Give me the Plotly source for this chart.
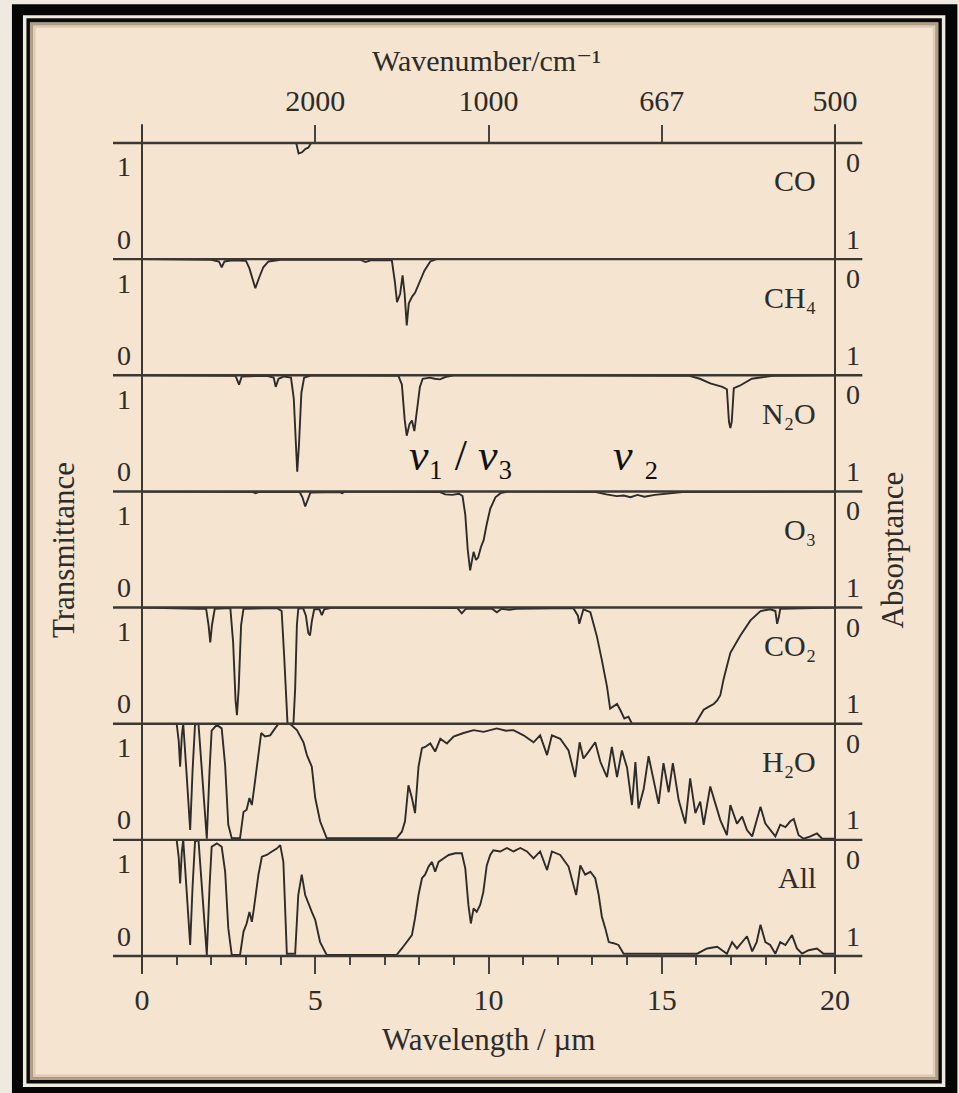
import plotly.graph_objects as go
from plotly.subplots import make_subplots

W, H = 959, 1093
L, R, T, B = 142.0, 834.7, 142.7, 956.0

# ---------------- data (wavelength in µm, transmittance 0..1) ----------------
species_labels = ["CO", "CH₄", "N₂O", "O₃", "CO₂", "H₂O", "All"]

co_wl = [0, 4.45, 4.52, 4.62, 4.72, 4.80, 4.88, 20]
co_tr = [1, 1.0, 0.91, 0.92, 0.95, 0.96, 1.0, 1]

ch4_wl = [0, 2.0, 2.22, 2.30, 2.38, 2.6, 3.0, 3.10, 3.20, 3.27, 3.38, 3.50, 3.65, 4.0,
          6.3, 6.45, 6.6, 7.21, 7.30, 7.36, 7.45, 7.52, 7.58, 7.64, 7.70, 7.80, 7.88,
          8.0, 8.15, 8.32, 8.5, 20]
ch4_tr = [1, 0.995, 0.98, 0.93, 0.98, 0.99, 0.985, 0.92, 0.82, 0.75, 0.84, 0.93, 0.98, 0.995,
          0.995, 0.975, 0.99, 0.99, 0.80, 0.63, 0.70, 0.86, 0.70, 0.43, 0.62, 0.68, 0.71,
          0.80, 0.90, 0.98, 1.0, 1]

n2o_wl = [0, 2.7, 2.80, 2.88, 3.6, 3.80, 3.86, 3.94, 4.1, 4.30, 4.38, 4.44, 4.48, 4.53,
          4.60, 4.68, 4.9, 7.4, 7.50, 7.58, 7.64, 7.72, 7.79, 7.86, 7.92, 8.02, 8.10,
          8.3, 8.45, 8.6, 8.75, 9.0, 15.8, 16.1, 16.4, 16.75, 16.88, 16.94, 16.98,
          17.02, 17.08, 17.25, 17.6, 18.2, 20]
n2o_tr = [1, 0.995, 0.92, 0.99, 0.995, 0.98, 0.90, 0.97, 0.99, 0.98, 0.80, 0.35, 0.17, 0.40,
          0.85, 0.98, 1.0, 0.995, 0.92, 0.62, 0.48, 0.58, 0.61, 0.52, 0.65, 0.90, 0.97,
          0.98, 0.97, 0.965, 0.985, 1.0, 0.995, 0.97, 0.93, 0.90, 0.88, 0.60, 0.545,
          0.60, 0.89, 0.91, 0.97, 0.995, 1]

o3_wl = [0, 3.2, 3.28, 3.36, 4.55, 4.63, 4.71, 4.78, 4.86, 5.7, 5.78, 5.86, 8.6, 8.75,
         8.95, 9.15, 9.25, 9.33, 9.40, 9.47, 9.52, 9.57, 9.64, 9.70, 9.78, 9.86, 9.95,
         10.05, 10.2, 10.35, 10.6, 13.1, 13.4, 13.7, 13.9, 14.1, 14.3, 14.5, 14.8, 15.1,
         15.6, 20]
o3_tr = [1, 0.995, 0.985, 0.995, 0.995, 0.95, 0.87, 0.93, 0.99, 0.995, 0.985, 1.0, 0.995, 0.975,
         0.97, 0.98, 0.96, 0.80, 0.50, 0.32, 0.42, 0.48, 0.41, 0.43, 0.52, 0.58, 0.72,
         0.85, 0.95, 0.985, 1.0, 0.995, 0.975, 0.96, 0.965, 0.95, 0.97, 0.955, 0.97, 0.98,
         0.995, 1]

co2_wl = [0, 1.4, 1.5, 1.6, 1.85, 1.92, 1.97, 2.02, 2.10, 2.55, 2.63, 2.70, 2.74, 2.79,
          2.86, 2.93, 3.9, 4.03, 4.10, 4.16, 4.20, 4.37, 4.42, 4.47, 4.51, 4.65, 4.73,
          4.80, 4.85, 4.90, 4.97, 5.12, 5.19, 5.26, 5.5, 9.1, 9.23, 9.35, 10.1, 10.24,
          10.38, 10.6, 10.8, 12.45, 12.58, 12.62, 12.67, 12.74, 12.94, 13.13, 13.27,
          13.42, 13.51, 13.62, 13.71, 13.80, 13.92, 14.04, 14.14, 15.97, 16.11, 16.21,
          16.35, 16.5, 16.6, 16.69, 16.79, 16.98, 17.27, 17.56, 17.85, 18.13, 18.28,
          18.33, 18.38, 18.42, 20]
co2_tr = [1, 0.99, 0.985, 0.99, 0.99, 0.85, 0.70, 0.85, 0.99, 0.995, 0.70, 0.20, 0.074, 0.30,
          0.85, 0.99, 0.995, 0.97, 0.60, 0.15, 0.0, 0.0, 0.30, 0.85, 0.99, 0.995, 0.93,
          0.78, 0.76, 0.88, 0.985, 0.985, 0.935, 0.985, 1.0, 0.995, 0.95, 0.99, 0.99, 0.96,
          0.99, 0.98, 0.99, 0.995, 0.93, 0.86, 0.92, 0.985, 0.96, 0.75, 0.55,
          0.32, 0.13, 0.15, 0.17, 0.12, 0.045, 0.06, 0.0, 0.0, 0.074, 0.12,
          0.145, 0.17, 0.20, 0.245, 0.39, 0.61, 0.76, 0.89, 0.97, 0.985, 0.97,
          0.86, 0.92, 0.99, 1]

h2o_wl = [0, 1.0, 1.06, 1.10, 1.15, 1.19, 1.28, 1.39, 1.46, 1.53, 1.63, 1.72, 1.87, 1.95,
          2.01, 2.16, 2.30, 2.40, 2.49, 2.59, 2.83, 2.93, 3.02, 3.10, 3.17, 3.23, 3.36,
          3.44, 3.55, 3.70, 3.84, 3.94, 4.27, 4.47, 4.66, 4.76, 4.90, 5.0, 5.14, 5.33,
          7.35, 7.5, 7.59, 7.69, 7.79, 7.88, 7.98, 8.08, 8.17, 8.32, 8.46, 8.61, 8.80,
          8.99, 9.28, 9.57, 9.86, 10.05, 10.24, 10.5, 10.72, 11.01, 11.30, 11.49, 11.69,
          11.83, 12.07, 12.31, 12.50, 12.63, 12.74, 12.89, 13.08, 13.23, 13.42, 13.56,
          13.71, 13.85, 14.0, 14.14, 14.24, 14.33, 14.48, 14.62, 14.77, 14.91, 15.05,
          15.20, 15.32, 15.49, 15.68, 15.82, 15.97, 16.11, 16.21, 16.40, 16.55, 16.69,
          16.88, 16.98, 17.17, 17.32, 17.46, 17.61, 17.75, 17.85, 17.99, 18.13, 18.28,
          18.42, 18.57, 18.71, 18.81, 18.95, 19.10, 19.29, 19.48, 19.63, 20]
h2o_tr = [1, 1.0, 0.85, 0.63, 0.90, 1.0, 0.60, 0.085, 0.60, 0.99, 1.0, 0.60, 0.01, 0.60,
          0.94, 0.99, 0.96, 0.64, 0.13, 0.015, 0.015, 0.24, 0.26, 0.36, 0.30, 0.43, 0.76,
          0.92, 0.89, 0.90, 0.96, 1.0, 1.0, 0.945, 0.84, 0.73, 0.63, 0.36, 0.16, 0.015,
          0.015, 0.07, 0.16, 0.47, 0.36, 0.23, 0.63, 0.79, 0.80, 0.83, 0.76, 0.87, 0.83,
          0.89, 0.92, 0.945, 0.93, 0.945, 0.96, 0.94, 0.945, 0.90, 0.84, 0.90, 0.73,
          0.90, 0.87, 0.77, 0.54, 0.84, 0.70, 0.76, 0.84, 0.67, 0.54, 0.80,
          0.54, 0.77, 0.62, 0.30, 0.67, 0.27, 0.44, 0.72, 0.50, 0.31, 0.66,
          0.41, 0.66, 0.34, 0.14, 0.53, 0.23, 0.33, 0.13, 0.46, 0.31, 0.17,
          0.04, 0.30, 0.14, 0.20, 0.085, 0.03, 0.18, 0.285, 0.14, 0.085, 0.03,
          0.13, 0.11, 0.16, 0.18, 0.04, 0.01, 0.03, 0.055, 0.01, 0.01]

all_wl = [0, 1.0, 1.06, 1.10, 1.15, 1.19, 1.28, 1.39, 1.46, 1.53, 1.63, 1.72, 1.87, 1.95,
          2.01, 2.16, 2.30, 2.40, 2.49, 2.59, 2.83, 2.93, 3.02, 3.10, 3.17, 3.23, 3.36,
          3.46, 3.60, 3.75, 3.89, 3.99, 4.08, 4.18, 4.42, 4.51, 4.61, 4.71, 4.80, 4.90,
          5.0, 5.14, 5.33, 7.35, 7.5, 7.64, 7.79, 7.88, 7.98, 8.08, 8.17, 8.27, 8.37,
          8.46, 8.56, 8.70, 8.85, 9.04, 9.23, 9.33, 9.42, 9.49, 9.57, 9.66, 9.76, 9.85,
          9.95, 10.05, 10.14, 10.34, 10.53, 10.72, 10.92, 11.11, 11.30, 11.49, 11.69,
          11.83, 12.07, 12.31, 12.53, 12.65, 12.79, 12.94, 13.08, 13.18, 13.27, 13.37,
          13.47, 13.61, 13.75, 13.90, 16.02, 16.31, 16.60, 16.88, 17.03, 17.17, 17.32,
          17.46, 17.61, 17.74, 17.85, 17.99, 18.13, 18.28, 18.42, 18.57, 18.76, 18.90,
          19.05, 19.24, 19.48, 19.67, 20]
all_tr = [1, 1.0, 0.85, 0.625, 0.90, 1.0, 0.60, 0.095, 0.60, 0.985, 1.0, 0.60, 0.01, 0.60,
          0.94, 0.97, 0.94, 0.725, 0.24, 0.01, 0.01, 0.21, 0.28, 0.38, 0.295, 0.41, 0.70,
          0.855, 0.87, 0.90, 0.925, 0.955, 0.81, 0.02, 0.02, 0.525, 0.70, 0.525, 0.45, 0.38,
          0.31, 0.12, 0.01, 0.01, 0.065, 0.12, 0.18, 0.325, 0.525, 0.67, 0.70, 0.77, 0.81,
          0.725, 0.81, 0.84, 0.87, 0.885, 0.885, 0.755, 0.44, 0.28, 0.41, 0.38, 0.44, 0.55,
          0.78, 0.87, 0.91, 0.90, 0.93, 0.90, 0.93, 0.90, 0.84, 0.90, 0.74,
          0.90, 0.87, 0.77, 0.525, 0.78, 0.70, 0.725, 0.67, 0.525, 0.34, 0.24,
          0.12, 0.11, 0.095, 0.02, 0.02, 0.065, 0.08, 0.02, 0.12, 0.065, 0.12,
          0.17, 0.04, 0.12, 0.27, 0.12, 0.095, 0.02, 0.12, 0.095, 0.18, 0.065,
          0.02, 0.05, 0.065, 0.02, 0.02]

series = [(co_wl, co_tr), (ch4_wl, ch4_tr), (n2o_wl, n2o_tr), (o3_wl, o3_tr),
          (co2_wl, co2_tr), (h2o_wl, h2o_tr), (all_wl, all_tr)]

bottom_ticks = [0, 5, 10, 15, 20]
top_tick_wl = [5, 10, 15, 20]
top_tick_text = ["2000", "1000", "667", "500"]

# ---------------- helpers (pixel -> paper, for decoration only) ----------------
def px(x):
    return (x - L) / (R - L)

def py(y):
    return (B - y) / (B - T)

FONT = "Liberation Serif, DejaVu Serif, Times New Roman, serif"
INK = "#2e2b28"
PANEL = "#f4e4d0"
OUTER = "#efeadf"

n = len(series)
fig = make_subplots(rows=n, cols=1, shared_xaxes=True, vertical_spacing=0)

for i, (wl, tr) in enumerate(series):
    fig.add_trace(go.Scatter(x=wl, y=tr, mode="lines",
                             line=dict(color=INK, width=1.9),
                             hoverinfo="skip", showlegend=False),
                  row=i + 1, col=1)
    fig.update_yaxes(range=[0, 1], showticklabels=False, showgrid=False,
                     zeroline=False, showline=False, ticks="", row=i + 1, col=1)

fig.update_xaxes(range=[0, 20], showgrid=False, zeroline=False, showline=False)
# bottom axis
fig.update_xaxes(tickvals=bottom_ticks, ticks="outside", ticklen=17, tickwidth=2,
                 tickcolor="#444", tickfont=dict(family=FONT, size=30, color=INK),
                 ticklabelstandoff=0,
                 minor=dict(dtick=1, ticks="outside", ticklen=8, tickwidth=2,
                            tickcolor="#444", showgrid=False),
                 row=n, col=1)
# top axis (wavenumber)
fig.update_xaxes(side="top", showticklabels=True, tickvals=top_tick_wl,
                 ticktext=top_tick_text, ticks="outside", ticklen=17, tickwidth=2,
                 tickcolor="#444", tickfont=dict(family=FONT, size=30, color=INK),
                 ticklabelstandoff=2, row=1, col=1)

shapes = []
# frame
def rect(x0, y0, x1, y1, fill, line=None, lw=0):
    return dict(type="rect", xref="paper", yref="paper", layer="below",
                x0=px(x0), x1=px(x1), y0=py(y1), y1=py(y0), fillcolor=fill,
                line=dict(width=lw, color=line or fill))

shapes.append(rect(12, 4, 957, 1097, "#050505"))
shapes.append(rect(23, 15, 945, 1087, OUTER))
shapes.append(rect(26.5, 18, 941.5, 1083.5, "#0a0a0a"))
shapes.append(rect(30, 22, 938, 1080, PANEL))
shapes.append(rect(31.5, 23.5, 936.5, 1078.5, "rgba(0,0,0,0)", "rgba(95,75,50,0.45)", 3))
shapes.append(rect(34, 26, 934, 1076, "rgba(0,0,0,0)", "rgba(120,95,65,0.18)", 3))

# horizontal panel separators
for k in range(n + 1):
    shapes.append(dict(type="line", xref="paper", yref="paper",
                       x0=px(113), x1=px(862), y0=k / n, y1=k / n,
                       line=dict(color="#3a3835", width=2.4)))
# vertical axis lines
for xv in (0, 1):
    shapes.append(dict(type="line", xref="paper", yref="paper",
                       x0=xv, x1=xv, y0=py(973), y1=py(124),
                       line=dict(color="#3a3835", width=2)))

annotations = []
row_h = (B - T) / n
for i, lab in enumerate(species_labels):
    top = T + i * row_h
    bot = top + row_h
    annotations.append(dict(text=lab, x=px(818), y=py(top + 38), xref="paper", yref="paper",
                            xanchor="right", yanchor="middle", showarrow=False,
                            font=dict(family=FONT, size=30, color=INK)))
    for txt, xx, yy in (("1", 124, top + 24), ("0", 124, bot - 20),
                        ("0", 852.5, top + 19.5), ("1", 852.5, bot - 20)):
        annotations.append(dict(text=txt, x=px(xx), y=py(yy), xref="paper", yref="paper",
                                xanchor="center", yanchor="middle", showarrow=False,
                                font=dict(family=FONT, size=28, color=INK)))

annotations += [
    dict(text="Wavenumber/cm⁻¹", x=px(486), y=py(60), xref="paper", yref="paper",
         xanchor="center", yanchor="middle", showarrow=False,
         font=dict(family=FONT, size=30, color=INK)),
    dict(text="Wavelength / µm", x=px(488), y=py(1040), xref="paper", yref="paper",
         xanchor="center", yanchor="middle", showarrow=False,
         font=dict(family=FONT, size=31, color=INK)),
    dict(text="Transmittance", x=px(63), y=py(550), xref="paper", yref="paper",
         xanchor="center", yanchor="middle", showarrow=False, textangle=-90,
         font=dict(family=FONT, size=31, color=INK)),
    dict(text="Absorptance", x=px(892), y=py(550), xref="paper", yref="paper",
         xanchor="center", yanchor="middle", showarrow=False, textangle=-90,
         font=dict(family=FONT, size=31, color=INK)),
    dict(text="<i>ν</i>₁ / <i>ν</i>₃", x=px(461), y=py(455),
         xref="paper", yref="paper", xanchor="center", yanchor="middle", showarrow=False,
         font=dict(family=FONT, size=44, color="#111")),
    dict(text="<i>ν</i> ₂", x=px(636), y=py(455),
         xref="paper", yref="paper", xanchor="center", yanchor="middle", showarrow=False,
         font=dict(family=FONT, size=44, color="#111")),
]

fig.update_layout(width=W, height=H, autosize=False,
                  margin=dict(l=L, r=W - R, t=T, b=H - B, pad=0),
                  paper_bgcolor=OUTER, plot_bgcolor="rgba(0,0,0,0)",
                  shapes=shapes, annotations=annotations, showlegend=False)

fig.write_html("out.html")
